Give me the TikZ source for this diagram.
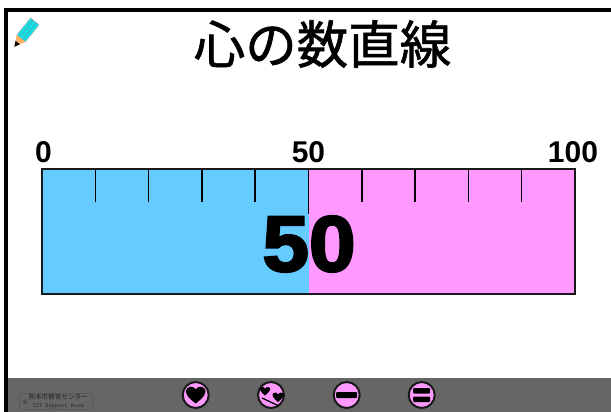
\documentclass[tikz,border=0pt]{standalone}
\usepackage{fontspec}
\setmainfont{Liberation Sans}
\newfontfamily\cjk{Noto Sans CJK JP}
\newfontfamily\cjktitle[FakeBold=1.2]{Noto Sans CJK JP}
\newfontfamily\heavy[FakeBold=3,FakeStretch=1.06]{Liberation Sans Bold}
\definecolor{leftblue}{HTML}{66CCFF}
\definecolor{rightpink}{HTML}{FF99FF}
\definecolor{barbg}{HTML}{666666}
\definecolor{pencil}{HTML}{11E0E6}
\tikzset{
  numlabel/.style={font=\fontsize{30}{30}\selectfont\bfseries,inner sep=0pt},
  btn/.style={circle,draw=black!90,line width=2pt,fill=rightpink,minimum size=26pt,inner sep=0pt}
}
\begin{document}
\begin{tikzpicture}[x=1pt,y=-1pt]
\useasboundingbox (0,0) rectangle (611,412);
\fill [white] (0,0) rectangle (611,412);

\fill [barbg] (6,378) rectangle (611,412);
\draw [line width=4pt] (6,412)--(6,10)--(611,10);

\node [inner sep=0pt] (title) at (322.5,44) {\cjktitle\fontsize{51.5}{51.5}\selectfont 心の数直線};

% pencil
\begin{scope}[shift={(21,38.5)},rotate=-39]
\fill [pencil,draw=gray!60,line width=.5pt] (-5.5,0)--(-5.5,-22)--(5.5,-22)--(5.5,0)--cycle;
\fill [orange!60] (-5.5,0)--(5.5,0)--(0,10.5)--cycle;
\fill [black] (-2.8,5.2)--(2.8,5.2)--(0,10.5)--cycle;
\foreach \x in {-2,2}
{
   \draw [gray!70!pencil,line width=.5pt] (\x,0)--(\x,-22);
}
\end{scope}

% number line
\fill [leftblue] (42,169) rectangle (308.5,294);
\fill [rightpink] (308.5,169) rectangle (575,294);
\foreach \x in {1,2,3,4,6,7,8,9}
{
   \draw [line width=1.5pt] (42+\x*53.3,169)--(42+\x*53.3,202);
}
\draw [line width=1.5pt] (308.5,169)--(308.5,214);
\draw [line width=1.6pt,black!90] (42,169) rectangle (575,294);

\node [numlabel] (zero) at (43.5,152) {0};
\node [numlabel] (fifty) at (308.5,152) {50};
\node [numlabel] (hundred) at (573,152) {100};
\node [inner sep=0pt] (value) at (309,244) {\heavy\fontsize{79}{79}\selectfont 50};

% footer
\node [draw=black!65,line width=.5pt,minimum width=73pt,minimum height=16pt,inner sep=0pt,text=black!85] (credit) at (55.5,401)
  {\fontsize{6}{6}\selectfont\raisebox{2.5pt}{\copyright}\hspace{1pt}\cjk\shortstack{\fontsize{6.6}{6.6}\selectfont 熊本市教育センター\\[.5pt]{\ttfamily\fontsize{6}{6}\selectfont ICT Support Room}}};

\node [btn] (heart) at (195.7,395) {};
\node [btn] (hearts) at (271,395) {};
\node [btn] (minus) at (346.7,395) {};
\node [btn] (equal) at (421.7,395) {};

\fill (195.7,403.5)..controls (187,397) and (184,392) .. (187,388.5)..controls (190,385.5) and (194,386.5) .. (195.7,389.5)
  ..controls (197.4,386.5) and (201.4,385.5) .. (204.4,388.5)..controls (207.4,392) and (204.4,397) .. (195.7,403.5)--cycle;

\draw [line width=1.3pt] (262,398)--(279,406);
\fill (265,395.5)..controls (260,391.5) and (259,389) .. (261,387.5)..controls (263,386.5) and (264.5,387) .. (265,388.5)
  ..controls (266,387) and (268,386.5) .. (269.5,387.5)..controls (271,389) and (270,391.5) .. (265,395.5)--cycle;
\fill (278,402)..controls (272.5,397.5) and (271.5,395) .. (273.5,393)..controls (275.5,392) and (277.5,392.5) .. (278,394.5)
  ..controls (279,392.5) and (281,392) .. (282.5,393)..controls (284.5,395) and (283.5,397.5) .. (278,402)--cycle;

\fill [rounded corners=1pt] (336,392) rectangle (357,398);

\fill [rounded corners=1pt] (413,388) rectangle (430,393.5);
\fill [rounded corners=1pt] (413,396.5) rectangle (430,402);

\end{tikzpicture}
\end{document}
